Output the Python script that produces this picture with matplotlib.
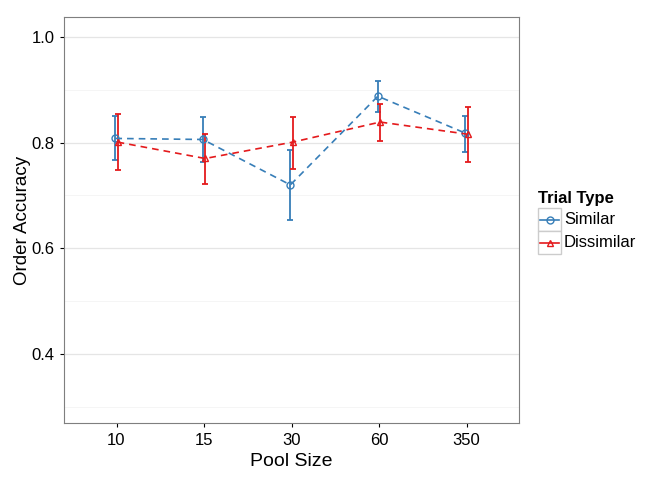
import matplotlib.pyplot as plt
from matplotlib.lines import Line2D
from matplotlib.patches import Rectangle
import numpy as np

plt.rcParams['font.family'] = ['Liberation Sans', 'DejaVu Sans']

pool_sizes = ["10", "15", "30", "60", "350"]
similar_mean = [0.808, 0.806, 0.720, 0.888, 0.818]
similar_lo = [0.767, 0.764, 0.654, 0.859, 0.783]
similar_hi = [0.850, 0.848, 0.787, 0.916, 0.850]
dissimilar_mean = [0.801, 0.770, 0.801, 0.839, 0.816]
dissimilar_lo = [0.748, 0.722, 0.750, 0.804, 0.763]
dissimilar_hi = [0.855, 0.817, 0.849, 0.874, 0.867]

blue = "#377EB8"
red = "#E41A1C"

fig = plt.figure(figsize=(6.72, 4.8), dpi=100)
ax = fig.add_axes([64 / 672, 57 / 480, 455 / 672, 406 / 480])

x = np.arange(len(pool_sizes))
dodge = 0.013
series = [
    ("Similar", similar_mean, similar_lo, similar_hi, blue, "o", -dodge),
    ("Dissimilar", dissimilar_mean, dissimilar_lo, dissimilar_hi, red, "^", dodge),
]
for name, m, lo, hi, col, mk, off in series:
    m = np.array(m)
    err = [m - np.array(lo), np.array(hi) - m]
    ax.errorbar(x + off, m, yerr=err, fmt="none", ecolor=col, elinewidth=1.3,
                capsize=2, capthick=1.3, zorder=3)
    ax.plot(x + off, m, color=col, linestyle=(0, (4, 3)), linewidth=1.2,
            marker=mk, markersize=5, markerfacecolor="none", markeredgecolor=col,
            markeredgewidth=1.0, zorder=4)

ax.set_xlim(-0.6, 4.6)
ax.set_ylim(0.269, 1.038)
ax.set_xticks(x)
ax.set_xticklabels(pool_sizes)
ax.set_yticks([0.4, 0.6, 0.8, 1.0])
ax.set_yticklabels(["0.4", "0.6", "0.8", "1.0"])
ax.set_yticks([0.3, 0.5, 0.7, 0.9], minor=True)
ax.grid(True, which="major", axis="y", color="#e5e5e5", linewidth=0.9)
ax.grid(True, which="minor", axis="y", color="#f5f5f5", linewidth=0.7)
ax.set_axisbelow(True)
for s in ax.spines.values():
    s.set_color("#7f7f7f")
    s.set_linewidth(0.8)
ax.tick_params(axis="both", which="major", labelsize=12, color="black",
               length=3, width=0.8, labelcolor="black", pad=4)
ax.tick_params(axis="both", which="minor", length=0)
ax.set_xlabel("Pool Size", fontsize=14, labelpad=4)
ax.set_ylabel("Order Accuracy", fontsize=13.5, labelpad=0)

# legend
fig.text(538 / 672, 1 - 198 / 480, "Trial Type", fontsize=12, fontweight="bold",
         va="center", ha="left")
for i, (name, m, lo, hi, col, mk, off) in enumerate(series):
    top = 208 + i * 23
    fig.add_artist(Rectangle((538 / 672, 1 - (top + 23) / 480), 23 / 672, 23 / 480,
                             facecolor="white", edgecolor="#cccccc", linewidth=1.0))
    yc = 1 - (top + 11.5) / 480
    fig.add_artist(Line2D([540 / 672, 559 / 672], [yc, yc], color=col, linewidth=1.2))
    fig.add_artist(Line2D([549.5 / 672], [yc], marker=mk, markersize=5,
                          markerfacecolor="none", markeredgecolor=col, markeredgewidth=1.0))
    fig.text(564 / 672, yc, name, fontsize=12, va="center", ha="left")

fig.savefig("out.png", dpi=100)
